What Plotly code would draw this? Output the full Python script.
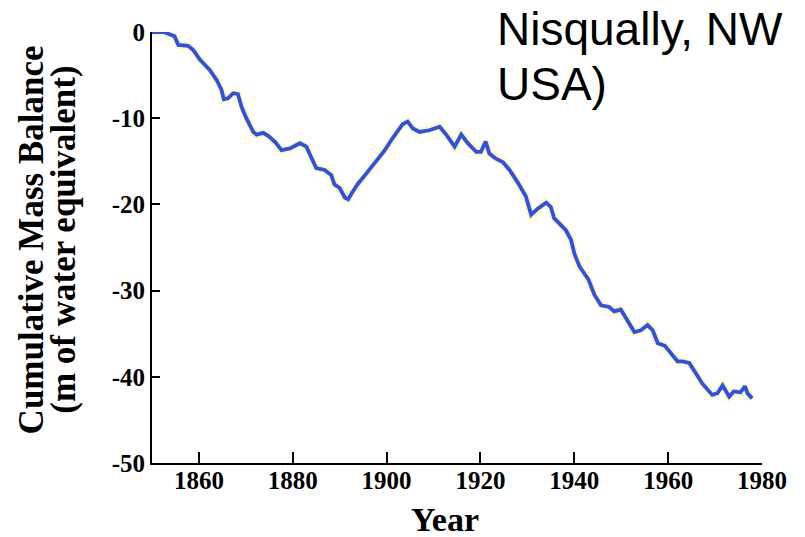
import plotly.graph_objects as go

# Cumulative mass balance record (metres of water equivalent)
years = [1850, 1852.5, 1854.8, 1855.6, 1857.7, 1858.8, 1860.2, 1862.3, 1863.8, 1864.8,
         1865.3, 1866.2, 1867.3, 1868.3, 1869.1, 1870.1, 1871.6, 1872.3, 1873.7, 1874.9,
         1876.3, 1877.6, 1879.4, 1881.5, 1882.9, 1884.0, 1885.0, 1886.8, 1888.2, 1888.9,
         1890.0, 1891.1, 1891.8, 1892.8, 1893.9, 1895.7, 1897.8, 1899.5, 1901.3, 1903.4,
         1904.5, 1905.6, 1907.0, 1909.1, 1911.3, 1912.7, 1914.5, 1915.9, 1917.3, 1919.1,
         1920.1, 1921.1, 1921.9, 1923.3, 1924.8, 1926.2, 1928.0, 1929.7, 1930.8, 1932.2,
         1934.0, 1935.0, 1935.7, 1938.2, 1939.3, 1940.0, 1941.1, 1943.0, 1944.3, 1945.7,
         1947.4, 1948.5, 1949.9, 1951.0, 1952.8, 1954.2, 1955.6, 1956.7, 1957.8, 1959.3,
         1960.8, 1962.0, 1963.0, 1964.5, 1965.9, 1967.3, 1969.4, 1970.5, 1971.6, 1973.0,
         1974.0, 1975.4, 1976.4, 1976.9, 1977.9]
balance = [0.0, 0.0, -0.5, -1.5, -1.6, -2.1, -3.2, -4.4, -5.6, -6.7,
           -7.8, -7.7, -7.1, -7.2, -8.7, -10.0, -11.6, -11.9, -11.7, -12.1,
           -12.8, -13.7, -13.5, -12.9, -13.3, -14.5, -15.8, -16.0, -16.6, -17.7,
           -18.1, -19.2, -19.4, -18.5, -17.6, -16.4, -15.0, -13.8, -12.3, -10.7,
           -10.4, -11.2, -11.6, -11.4, -11.0, -11.9, -13.3, -11.9, -12.9, -13.9,
           -13.9, -12.7, -14.1, -14.7, -15.1, -16.0, -17.5, -19.1, -21.2, -20.5,
           -19.8, -20.3, -21.6, -23.0, -24.1, -25.7, -27.2, -28.7, -30.5, -31.7,
           -31.9, -32.4, -32.2, -33.2, -34.8, -34.6, -34.0, -34.6, -36.1, -36.4,
           -37.5, -38.2, -38.2, -38.4, -39.6, -40.8, -42.1, -41.9, -41.0, -42.3,
           -41.7, -41.8, -41.1, -41.9, -42.5]

x_ticks = [1860, 1880, 1900, 1920, 1940, 1960, 1980]
x_labels = ["1860", "1880", "1900", "1920", "1940", "1960", "1980"]
y_ticks = [0, -10, -20, -30, -40, -50]
y_labels = ["0", "-10", "-20", "-30", "-40", "-50"]

serif = "Liberation Serif, Times New Roman, serif"
sans = "Liberation Sans, Arial, sans-serif"

fig = go.Figure()
# faint yellow fringe under the main line
fig.add_trace(go.Scatter(x=years, y=balance, mode="lines",
                         line=dict(color="rgba(255,240,60,0.4)", width=7.5),
                         hoverinfo="skip", showlegend=False))
fig.add_trace(go.Scatter(x=years, y=balance, mode="lines",
                         line=dict(color="rgb(45,80,230)", width=3.8),
                         showlegend=False))

axis_common = dict(showgrid=False, zeroline=False, showline=True,
                   linecolor="black", linewidth=2, ticks="inside",
                   tickcolor="black", tickwidth=2,
                   tickfont=dict(family=serif, size=25, color="black", weight="bold"))

fig.update_xaxes(range=[1850, 1980], tickmode="array", tickvals=x_ticks,
                 ticktext=x_labels, ticklen=11, ticklabelstandoff=-6, **axis_common)
fig.update_yaxes(range=[-50, 0], tickmode="array", tickvals=y_ticks,
                 ticktext=y_labels, ticklen=8, **axis_common)

annotations = [
    dict(text="Cumulative Mass Balance", x=-0.198, y=0.517, textangle=-90,
         font=dict(family=serif, size=35, color="black", weight="bold")),
    dict(text="(m of water equivalent)", x=-0.145, y=0.517, textangle=-90,
         font=dict(family=serif, size=35, color="black", weight="bold")),
    dict(text="Year", x=0.48, y=-0.132,
         font=dict(family=serif, size=34, color="black", weight="bold")),
    dict(text="Nisqually, NW", x=0.562, y=1.007, xanchor="left",
         font=dict(family=sans, size=46, color="black")),
    dict(text="USA)", x=0.562, y=0.879, xanchor="left",
         font=dict(family=sans, size=46, color="black")),
]
for a in annotations:
    a.setdefault("xanchor", "center")
    a.update(xref="paper", yref="paper", yanchor="middle", showarrow=False)

fig.update_layout(width=805, height=537,
                  margin=dict(l=152, r=43, t=32, b=74),
                  paper_bgcolor="white", plot_bgcolor="white",
                  annotations=annotations)

fig.write_html("out.html")
